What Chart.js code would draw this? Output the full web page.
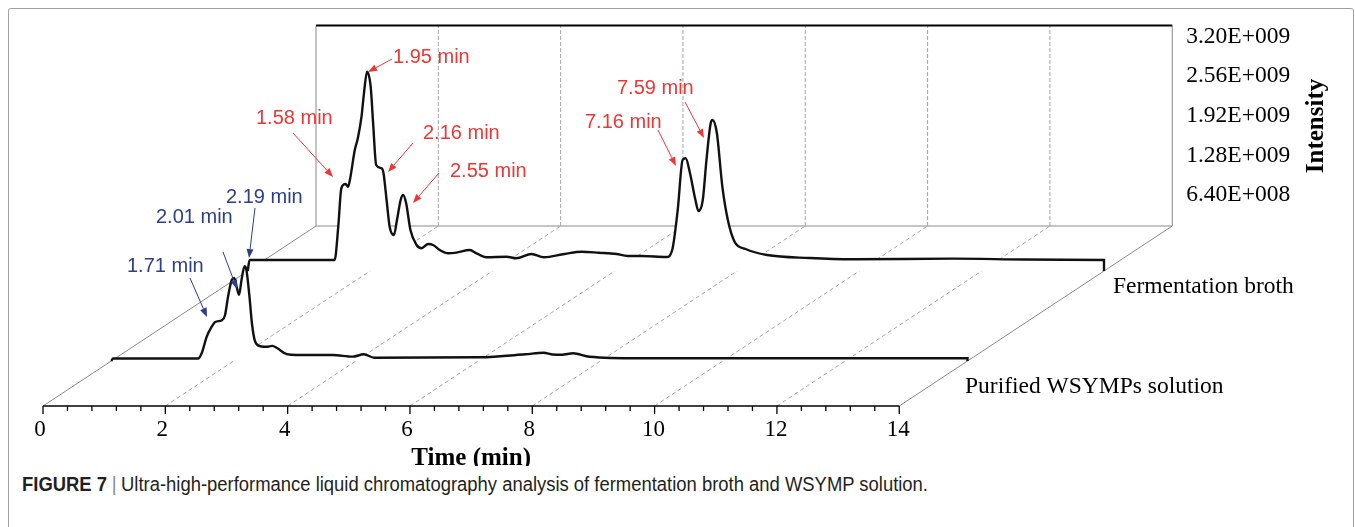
<!DOCTYPE html>
<html>
<head>
<meta charset="utf-8">
<script src="https://cdn.jsdelivr.net/npm/chart.js@4.4.1/dist/chart.umd.min.js"></script>
<style>
  body { margin: 0; background: #fff; }
  #fig { position: relative; width: 1355px; height: 527px; overflow: hidden; background: #fff; }
  #frame { position: absolute; left: 8px; top: 8px; width: 1346px; height: 600px; box-sizing: border-box;
           border: 1.5px solid #a0a0a0; border-radius: 3px; }
  #plot { position: absolute; left: 0; top: 0; }
  #caption { position: absolute; left: 22px; top: 473px; line-height: 22px; white-space: nowrap;
             font-family: "Liberation Sans Narrow", "Liberation Sans", Arial, sans-serif; font-size: 20px;
             color: #231f20; transform-origin: 0 0; }
  #caption .bar { color: #888; padding: 0 5px; }
</style>
</head>
<body>
<div id="fig">
  <div id="frame"></div>
  <canvas id="plot" width="1355" height="466"></canvas>
  <div id="caption"><b>FIGURE 7</b><span class="bar">|</span>Ultra-high-performance liquid chromatography analysis of fermentation broth and WSYMP solution.</div>
</div>
<script>
// retention time (min) and intensity (x 1e9)
const purifiedTime = [0, 0.03, 0.80, 1.42, 1.48, 1.56, 1.64, 1.70, 1.81, 1.86, 1.91, 1.97, 2.01, 2.05,
  2.09, 2.13, 2.18, 2.21, 2.26, 2.30, 2.35, 2.43, 2.49, 2.54, 2.63, 2.71, 2.87, 3.03, 3.62, 3.95,
  4.13, 4.30, 6.02, 6.77, 7.07, 7.22, 7.37, 7.55, 7.82, 8.65, 14.0, 14.0];
const purifiedInt = [0, 0.04, 0.04, 0.04, 0.13, 0.39, 0.55, 0.63, 0.66, 0.74, 1.04, 1.31, 1.34, 1.20,
  1.07, 1.31, 1.53, 1.47, 1.04, 0.61, 0.32, 0.24, 0.23, 0.23, 0.245, 0.21, 0.11, 0.097, 0.097, 0.07,
  0.108, 0.053, 0.06, 0.108, 0.134, 0.105, 0.102, 0.124, 0.069, 0.044, 0.044, 0];

const brothTime = [0, 0.03, 1.42, 1.48, 1.53, 1.60, 1.64, 1.67, 1.75, 1.80, 1.86, 1.90, 1.95, 2.01,
  2.05, 2.10, 2.19, 2.22, 2.27, 2.32, 2.39, 2.44, 2.50, 2.54, 2.59, 2.66, 2.76, 2.84, 2.95, 3.03,
  3.14, 3.28, 3.41, 3.63, 3.74, 3.90, 4.23, 4.39, 4.64, 4.84, 5.18, 5.46, 5.74, 6.03, 6.21, 6.44,
  6.85, 6.94, 7.03, 7.11, 7.16, 7.23, 7.32, 7.37, 7.44, 7.50, 7.57, 7.60, 7.67, 7.76, 7.85, 7.96,
  8.14, 8.49, 9.19, 9.89, 11.53, 12.69, 14.0, 14.0];
const brothInt = [0, 0.178, 0.178, 0.716, 1.336, 1.405, 1.362, 1.47, 1.955, 2.144, 2.493, 2.871, 3.22, 2.977,
  2.386, 1.712, 1.659, 1.578, 1.147, 0.716, 0.582, 0.824, 1.147, 1.228, 1.094, 0.662, 0.42, 0.367, 0.436, 0.42,
  0.339, 0.286, 0.296, 0.339, 0.286, 0.221, 0.231, 0.205, 0.275, 0.221, 0.275, 0.312, 0.296, 0.275, 0.242, 0.242,
  0.226, 0.339, 0.985, 1.793, 1.821, 1.583, 1.147, 0.969, 1.147, 1.793, 2.391, 2.439, 2.229, 1.362, 0.824, 0.473,
  0.355, 0.258, 0.21, 0.19, 0.2, 0.185, 0.178, 0];

const seriesNames = ["Purified WSYMPs solution", "Fermentation broth"];
const seriesDepth = [0.25, 0.75];   // position along the depth axis (0 = front, 1 = back wall)

const timeTicks = [0, 2, 4, 6, 8, 10, 12, 14];
const intensityTicks = [0.64, 1.28, 1.92, 2.56, 3.2];
const intensityLabels = ["6.40E+008", "1.28E+009", "1.92E+009", "2.56E+009", "3.20E+009"];

const purifiedPeaks = ["1.71 min", "2.01 min", "2.19 min"];
const brothPeaks = ["1.58 min", "1.95 min", "2.16 min", "2.55 min", "7.16 min", "7.59 min"];

// geometry of the pseudo-3d box (pixels)
const W = 1355, H = 466;
const X0 = 43, Y0 = 406;             // front axis origin
const PX_MIN = 61.16, PX_INT = 61.9; // pixels per minute / per 1e9
const DX = 273 / PX_MIN;             // depth vector in data units
const DY = 180 / PX_INT;
const I_MAX = 3.24;

const RED = "#ee3636", BLUE = "#2c3e8c";
const SERIF = '"Liberation Serif", "Times New Roman", serif';
const SANS = '"Liberation Sans", Arial, sans-serif';

// label box / arrow start / arrow tip, in pixels
const purifiedNoteLayout = [
  { tx: 127, ty: 266, from: [190, 278], to: [207, 317] },
  { tx: 156, ty: 217, from: [223, 252], to: [237, 289] },
  { tx: 226, ty: 197, from: [255, 208], to: [249, 258] },
];
const brothNoteLayout = [
  { tx: 256, ty: 118, from: [293, 133], to: [333, 177] },
  { tx: 393, ty: 57, from: [392, 59], to: [368, 72] },
  { tx: 423, ty: 133, from: [413, 143], to: [388, 172] },
  { tx: 450, ty: 171, from: [439, 173], to: [413, 203] },
  { tx: 585, ty: 122, from: [658, 130], to: [676, 166] },
  { tx: 617, ty: 88, from: [685, 102], to: [704, 138] },
];

function project(t, i, d) {
  return { x: t + d * DX, y: i + d * DY };
}

function buildSeries(times, ints, d) {
  return times.map((t, k) => project(t, ints[k], d));
}

function strokeLine(ctx, a, b, color, width, dash) {
  ctx.beginPath();
  ctx.setLineDash(dash || []);
  ctx.strokeStyle = color;
  ctx.lineWidth = width;
  ctx.moveTo(a[0], a[1]);
  ctx.lineTo(b[0], b[1]);
  ctx.stroke();
  ctx.setLineDash([]);
}

function arrow(ctx, from, to, color) {
  const ang = Math.atan2(to[1] - from[1], to[0] - from[0]);
  const len = 9, half = 3.5;
  const bx = to[0] - len * Math.cos(ang), by = to[1] - len * Math.sin(ang);
  strokeLine(ctx, from, [bx, by], color, 1);
  ctx.beginPath();
  ctx.fillStyle = color;
  ctx.moveTo(to[0], to[1]);
  ctx.lineTo(bx + half * Math.sin(ang), by - half * Math.cos(ang));
  ctx.lineTo(bx - half * Math.sin(ang), by + half * Math.cos(ang));
  ctx.closePath();
  ctx.fill();
}

const box3d = {
  id: "box3d",
  beforeDatasetsDraw(chart) {
    const { ctx, scales: { x, y } } = chart;
    const px = (t, i, d) => {
      const p = project(t, i, d);
      return [x.getPixelForValue(p.x), y.getPixelForValue(p.y)];
    };
    const last = timeTicks.length - 1;
    ctx.save();
    // floor lines running back from each major tick
    timeTicks.forEach((t, k) => {
      const edge = k === 0 || k === last;
      strokeLine(ctx, px(t, 0, 0), px(t, 0, 1), edge ? "#8a8a8a" : "#a6a6a6", 1, edge ? [] : [4, 3]);
    });
    // back wall
    strokeLine(ctx, px(0, 0, 1), px(14, 0, 1), "#8a8a8a", 1);
    timeTicks.forEach((t, k) => {
      const edge = k === 0 || k === last;
      strokeLine(ctx, px(t, 0, 1), px(t, I_MAX, 1), edge ? "#8a8a8a" : "#a6a6a6", 1, edge ? [] : [4, 2]);
    });
    strokeLine(ctx, px(0, I_MAX, 1), px(14, I_MAX, 1), "#000", 2);
    ctx.restore();
  },
  afterDatasetsDraw(chart) {
    const { ctx, scales: { x, y } } = chart;
    const px = (t, i, d) => {
      const p = project(t, i, d);
      return [x.getPixelForValue(p.x), y.getPixelForValue(p.y)];
    };
    ctx.save();
    // front time axis
    const a0 = px(0, 0, 0), a1 = px(14, 0, 0);
    strokeLine(ctx, a0, a1, "#000", 1.5);
    for (let k = 0; k <= 35; k++) {
      const p = px(k * 0.4, 0, 0);
      strokeLine(ctx, [p[0], p[1]], [p[0], p[1] + (k % 5 === 0 ? 8 : 5)], "#000", 1.3);
    }
    ctx.fillStyle = "#000";
    ctx.font = "23px " + SERIF;
    ctx.textAlign = "center";
    ctx.textBaseline = "middle";
    timeTicks.forEach(t => {
      const p = px(t, 0, 0);
      ctx.fillText(String(t), p[0] - (t < 10 ? 3 : 1), p[1] + 24);
    });
    ctx.font = "bold 25px " + SERIF;
    ctx.textBaseline = "alphabetic";
    ctx.fillText("Time (min)", px(7, 0, 0)[0], 465);

    // intensity labels on the back wall
    ctx.font = "23.5px " + SERIF;
    ctx.textAlign = "left";
    ctx.textBaseline = "middle";
    intensityTicks.forEach((v, k) => {
      const p = px(14, v, 1);
      ctx.fillText(intensityLabels[k], p[0] + 14, p[1] + 8.7);
    });
    ctx.save();
    ctx.translate(1317, 126);
    ctx.rotate(-Math.PI / 2);
    ctx.font = "bold 25px " + SERIF;
    ctx.textAlign = "center";
    ctx.fillText("Intensity", 0, 0);
    ctx.restore();

    // series names
    ctx.font = "23.5px " + SERIF;
    ctx.fillText(seriesNames[1], 1113, 287);
    ctx.fillText(seriesNames[0], 965, 387);

    // peak notes
    ctx.font = "20px " + SANS;
    const notes = (labels, layout, color) => labels.forEach((txt, k) => {
      const n = layout[k];
      ctx.fillStyle = color;
      ctx.fillText(txt, n.tx, n.ty);
      arrow(ctx, n.from, n.to, color);
    });
    notes(brothPeaks, brothNoteLayout, RED);
    notes(purifiedPeaks, purifiedNoteLayout, BLUE);
    ctx.restore();
  },
};

const lineStyle = {
  borderColor: "#111",
  borderWidth: 2.4,
  backgroundColor: "#fff",
  pointRadius: 0,
  cubicInterpolationMode: "monotone",
};

new Chart(document.getElementById("plot"), {
  type: "line",
  data: {
    datasets: [
      { ...lineStyle, label: seriesNames[0], data: buildSeries(purifiedTime, purifiedInt, seriesDepth[0]),
        fill: { value: seriesDepth[0] * DY } },
      { ...lineStyle, label: seriesNames[1], data: buildSeries(brothTime, brothInt, seriesDepth[1]),
        fill: { value: seriesDepth[1] * DY } },
    ],
  },
  options: {
    responsive: false,
    animation: false,
    devicePixelRatio: 1,
    events: [],
    layout: { padding: 0 },
    plugins: { legend: { display: false }, tooltip: { enabled: false } },
    scales: {
      x: { type: "linear", display: false, min: -X0 / PX_MIN, max: (W - X0) / PX_MIN },
      y: { type: "linear", display: false, min: -(H - Y0) / PX_INT, max: Y0 / PX_INT },
    },
  },
  plugins: [box3d],
});

// stretch caption to the width it has in the figure
const cap = document.getElementById("caption");
cap.style.transform = "scaleX(" + (906 / cap.getBoundingClientRect().width) + ")";
</script>
</body>
</html>
